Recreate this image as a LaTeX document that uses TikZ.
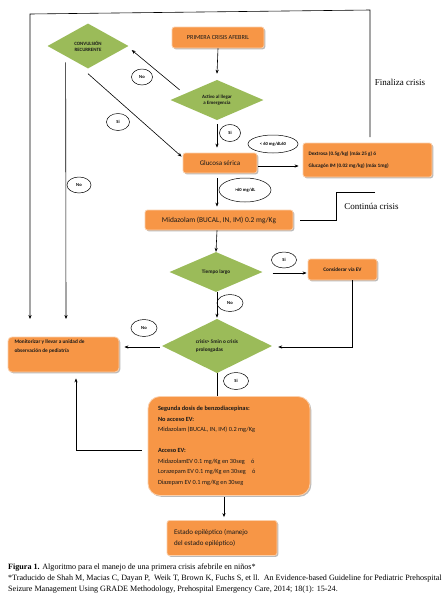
\documentclass[tikz,border=0pt]{standalone}
\usepackage{fontspec}
\setmainfont{Liberation Serif}
\newfontfamily\calfont{Carlito}
\usetikzlibrary{shapes.geometric,shadows,arrows.meta}
\definecolor{oran}{HTML}{F79646}
\definecolor{olive}{HTML}{9BBB59}
\begin{document}
\begin{tikzpicture}[x=1pt,y=-1pt,
  box/.style={fill=oran, draw=oran!45!white, line width=0.8pt, rounded corners=2.5pt,
    drop shadow={shadow xshift=1.3pt, shadow yshift=-1.3pt, opacity=0.45, fill=black!60},
    inner sep=0pt, font=\calfont, text=black!90},
  dia/.style={diamond, fill=olive, inner sep=0pt, font=\calfont\bfseries, text=black!90, align=center},
  lab/.style={ellipse, draw, fill=white, inner sep=0pt, font=\calfont\bfseries\fontsize{4.6}{5}\selectfont, line width=0.5pt},
  arr/.style={-{Stealth[length=4pt,width=3.2pt]}, line width=0.6pt},
  ln/.style={line width=0.6pt},
  captxt/.style={anchor=base west, font=\fontsize{8.1}{9}\selectfont, inner sep=0pt}]
\useasboundingbox[fill=white] (0,0) rectangle (447,606);

% nodes
\node[box, minimum width=92pt, minimum height=21pt, font=\calfont\fontsize{6.2}{7}\selectfont] (P) at (218,37.5) {PRIMERA CRISIS AFEBRIL};
\node[dia, minimum width=93pt, minimum height=39pt, font=\calfont\bfseries\fontsize{4.9}{6}\selectfont] (A) at (217,100) {Activo al llegar\\a Emergencia};
\node[dia, minimum width=81pt, minimum height=45pt, font=\calfont\bfseries\fontsize{4.9}{6}\selectfont] (C) at (88,46) {CONVULSIÓN\\RECURRENTE};
\node[box, minimum width=74pt, minimum height=20pt, font=\calfont\fontsize{7}{8}\selectfont] (G) at (220,163) {Glucosa sérica};
\node[box, minimum width=129pt, minimum height=34pt, font=\calfont\bfseries\fontsize{5.2}{6}\selectfont] (D) at (367.5,160) {\parbox[c][28pt][c]{118pt}{Dextrosa (0.5g/kg) (máx 25 g) ó\\[6pt]Glucagón IM (0.02 mg/kg) (máx 1mg)}};
\node[box, minimum width=148pt, minimum height=20pt, font=\calfont\fontsize{7.4}{8}\selectfont] (M) at (219,220) {Midazolam (BUCAL, IN, IM) 0.2 mg/Kg};
\node[dia, minimum width=93pt, minimum height=40pt, font=\calfont\bfseries\fontsize{5.2}{6}\selectfont] (T) at (216,272) {Tiempo largo};
\node[box, minimum width=69pt, minimum height=21pt, font=\calfont\bfseries\fontsize{5.3}{6}\selectfont] (V) at (342.5,269.5) {Considerar vía EV};
\node[dia, minimum width=110pt, minimum height=52pt, font=\calfont\bfseries\fontsize{5.3}{7.5}\selectfont, align=left] (K) at (217,346) {crisis> 5min o crisis\\prolongadas};
\node[box, minimum width=111pt, minimum height=35pt, rounded corners=4pt, font=\calfont\bfseries\fontsize{5.3}{9}\selectfont] (O) at (63.5,354.5) {\parbox[c][30pt][t]{98pt}{Monitorizar y llevar a unidad de\\observación de pediatría}};
\node[box, minimum width=162pt, minimum height=99pt, rounded corners=12pt, font=\calfont\fontsize{6.3}{10.5}\selectfont] (S) at (229,446) {\parbox{142pt}{\bfseries Segunda dosis de benzodiacepinas:\\No acceso EV:\\\mdseries Midazolam (BUCAL, IN, IM) 0.2 mg/Kg\\[10.5pt]\bfseries Acceso EV:\\\mdseries MidazolamEV 0.1 mg/Kg en 30seg\quad ó\\Lorazepam EV 0.1 mg/Kg en 30seg\quad ó\\Diazepam EV 0.1 mg/Kg en 30seg}};
\node[box, minimum width=110pt, minimum height=35pt, font=\calfont\fontsize{7}{11}\selectfont] (E) at (222,538) {\parbox{96pt}{Estado epiléptico (manejo\\del estado epiléptico)}};

% labels
\node[lab, minimum width=21pt, minimum height=16pt] (l1) at (142,77) {No};
\node[lab, minimum width=23pt, minimum height=17pt] (l2) at (118,122) {Si};
\node[lab, minimum width=21pt, minimum height=17pt] (l3) at (230,133) {Si};
\node[lab, minimum width=50pt, minimum height=18pt] (l4) at (273,144) {\textless\ 60 mg/dL60};
\node[lab, minimum width=52pt, minimum height=24pt] (l5) at (245,190) {\textgreater60 mg/dL};
\node[lab, minimum width=24pt, minimum height=16pt] (l6) at (79,185) {No};
\node[lab, minimum width=25pt, minimum height=16pt] (l7) at (284,260) {Si};
\node[lab, minimum width=26pt, minimum height=17pt] (l8) at (230,303) {No};
\node[lab, minimum width=26pt, minimum height=17pt] (l9) at (144,328) {No};
\node[lab, minimum width=25pt, minimum height=17pt] (l10) at (236,381) {Si};

\node[font=\fontsize{9}{10}\selectfont] (fin) at (400,82) {Finaliza crisis};
\node[font=\fontsize{9}{10}\selectfont] (cont) at (371.5,206) {Continúa crisis};

% free ends
\coordinate (f1) at (370,137);
\coordinate (f2) at (370,10);
\coordinate (f3) at (30,14);
\coordinate (f4) at (30,319);
\coordinate (c1) at (375,192);
\coordinate (c2) at (336,192);
\coordinate (o2) at (66,319);

% connectors
\draw[arr] (P.south) -- ([shift={(0,-6)}]A.north);
\draw[arr] ([shift={(-14,0)}]A.north west) -- ([shift={(3,4)}]C.east);
\draw[arr] ([shift={(0,5)}]C.south) -- ([shift={(-1,4)}]G.north west);
\draw[arr] ([shift={(-2,5)}]C.south west) -- (o2);
\draw[arr] ([shift={(0,4)}]A.south) -- ([shift={(-3,-5)}]G.north);
\draw[arr] ([shift={(1,3)}]G.east) -- ([shift={(-4,6)}]D.west);
\draw[arr] ([shift={(-3,5)}]G.south) -- ([shift={(-2,-3)}]M.north);
\draw[arr] ([shift={(-2,0)}]M.south) -- (T.north);
\draw[arr] ([shift={(10,1)}]T.east) -- ([shift={(-1,3.5)}]V.west);
\draw[arr] ([shift={(9.5,0)}]V.south) |- ([shift={(6,1)}]K.east);
\draw[arr] ([shift={(1,0)}]T.south) -- ([shift={(0,-1)}]K.north);
\draw[arr] ([shift={(-2,1)}]K.west) -- ([shift={(5,-7.5)}]O.east);
\draw[ln] (K.south) -- (K.south |- S.north);
\draw[arr] ([shift={(-6,4)}]S.west) -| ([shift={(12.5,6)}]O.south);
\draw[arr] ([shift={(-5,1)}]S.south) -- ([shift={(2,-3)}]E.north);
\draw[arr] (f1) -- (f2) -- (f3) -- (f4);
\draw[ln] (c1) -- (c2) |- ([shift={(7,0)}]M.east);

% caption
\node[captxt] (cap1) at (8,569) {\textbf{Figura 1.} Algoritmo para el manejo de una primera crisis afebrile en niños*};
\node[captxt] (cap2) at (8,580) {*Traducido de Shah M, Macias C, Dayan P,\ \ Weik T, Brown K, Fuchs S, et ll.\ \ An Evidence-based Guideline for Pediatric Prehospital};
\node[captxt] (cap3) at (8,591) {Seizure Management Using GRADE Methodology, Prehospital Emergency Care, 2014; 18(1): 15-24.};
\end{tikzpicture}
\end{document}
